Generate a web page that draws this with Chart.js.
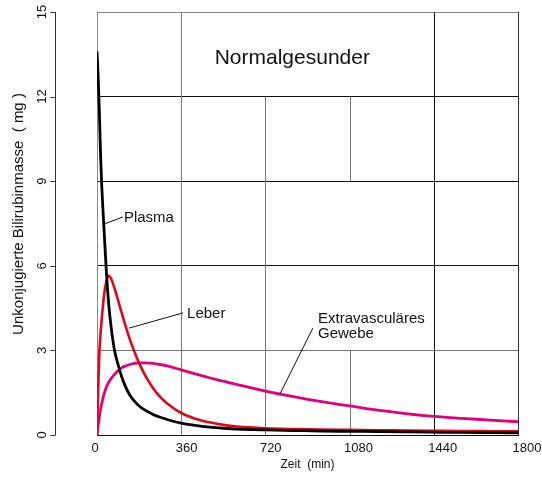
<!DOCTYPE html>
<html>
<head>
<meta charset="utf-8">
<title>Normalgesunder</title>
<script src="https://cdn.jsdelivr.net/npm/chart.js@4.4.0/dist/chart.umd.min.js"></script>
<style>
    html, body { margin: 0; padding: 0; background: #fff; }
    #wrap { width: 542px; height: 478px; }
</style>
</head>
<body>
<div id="wrap"><canvas id="bilirubinChart" width="542" height="478"></canvas></div>
<script>
// Zeitpunkte (min)
const zeit = [0, 5, 10, 15, 20, 30, 40, 50, 60, 75, 90, 105, 120, 140, 160, 180, 210, 240, 270, 300,
              360, 420, 480, 540, 600, 720, 840, 960, 1080, 1200, 1320, 1440, 1560, 1680, 1800];

// Unkonjugierte Bilirubinmasse (mg)
const plasma = [13.6, 12.7, 11.5, 10.0, 8.9, 7.3, 5.8, 4.65, 3.85, 3.0, 2.5, 2.08, 1.75, 1.42, 1.2, 1.03, 0.86, 0.73, 0.63, 0.55,
                0.42, 0.34, 0.28, 0.24, 0.21, 0.18, 0.16, 0.14, 0.13, 0.12, 0.11, 0.1, 0.09, 0.085, 0.08];
const leber = [0, 1.6, 2.9, 3.6, 4.1, 4.95, 5.45, 5.65, 5.55, 5.2, 4.78, 4.35, 3.92, 3.4, 2.95, 2.55, 2.05, 1.66, 1.35, 1.12,
               0.78, 0.58, 0.45, 0.36, 0.3, 0.24, 0.21, 0.19, 0.18, 0.17, 0.16, 0.15, 0.14, 0.135, 0.13];
const gewebe = [0, 0.35, 0.65, 0.9, 1.1, 1.45, 1.7, 1.87, 2.0, 2.15, 2.28, 2.38, 2.44, 2.5, 2.54, 2.56, 2.56, 2.54, 2.5, 2.45,
                2.31, 2.17, 2.03, 1.91, 1.79, 1.56, 1.36, 1.18, 1.03, 0.88, 0.76, 0.66, 0.59, 0.53, 0.47];

// Achsen
const xTicks = [0, 360, 720, 1080, 1440, 1800];
const yTicks = [0, 3, 6, 9, 12, 15];

const schrift = "'Liberation Sans', Arial, Helvetica, sans-serif";
Chart.defaults.font.family = schrift;

function punkte(werte) {
    return zeit.map((t, i) => ({ x: t, y: werte[i] }));
}

// senkrechte Gitterlinien (teilweise unterbrochen wie in der Vorlage)
const senkrechte = [
    { wert: 0, von: 0, bis: 15, farbe: '#888' },
    { wert: 360, von: 0, bis: 15, farbe: '#777' },
    { wert: 720, von: 0, bis: 12, farbe: '#777' },
    { wert: 1080, von: 9, bis: 12, farbe: '#777' },
    { wert: 1080, von: 0, bis: 3, farbe: '#777' },
    { wert: 1440, von: 0, bis: 15, farbe: '#111' },
    { wert: 1800, von: 0, bis: 15, farbe: '#333' }
];

// Beschriftungen im Diagramm (Datenkoordinaten)
const beschriftungen = [
    { text: 'Plasma', x: 115, y: 7.7, linie: [30, 7.48, 111, 7.73] },
    { text: 'Leber', x: 385, y: 4.29, linie: [137, 3.79, 368, 4.33] },
    { text: 'Extravasculäres', x: 945, y: 4.11, linie: [782, 1.45, 923, 3.79] },
    { text: 'Gewebe', x: 945, y: 3.58, linie: null }
];

const rahmenPlugin = {
    id: 'rahmen',
    beforeDatasetsDraw(chart) {
        const { ctx, scales: { x, y } } = chart;
        ctx.save();
        ctx.lineWidth = 1;
        senkrechte.forEach(l => {
            const px = Math.round(x.getPixelForValue(l.wert)) + 0.5;
            ctx.strokeStyle = l.farbe;
            ctx.beginPath();
            ctx.moveTo(px, y.getPixelForValue(l.von));
            ctx.lineTo(px, y.getPixelForValue(l.bis));
            ctx.stroke();
        });
        ctx.restore();
    },
    afterDraw(chart) {
        const { ctx, chartArea, scales: { x, y } } = chart;
        ctx.save();

        // linke Achse, abgesetzt vom Diagramm
        const achseX = chartArea.left - 41.5;
        ctx.strokeStyle = '#333';
        ctx.lineWidth = 1;
        ctx.beginPath();
        ctx.moveTo(achseX, y.getPixelForValue(15));
        ctx.lineTo(achseX, y.getPixelForValue(0));
        yTicks.forEach(v => {
            const py = Math.round(y.getPixelForValue(v)) + 0.5;
            ctx.moveTo(achseX - 5, py);
            ctx.lineTo(achseX, py);
        });
        ctx.stroke();

        ctx.fillStyle = '#111';
        ctx.font = '13px ' + schrift;
        ctx.textAlign = 'center';
        ctx.textBaseline = 'middle';
        yTicks.forEach(v => {
            ctx.save();
            ctx.translate(42, y.getPixelForValue(v));
            ctx.rotate(-Math.PI / 2);
            ctx.fillText(String(v), 0, 0);
            ctx.restore();
        });

        // Achsentitel links
        ctx.save();
        ctx.font = '15px ' + schrift;
        ctx.translate(19, 214);
        ctx.rotate(-Math.PI / 2);
        ctx.fillText('Unkonjugierte Bilirubinmasse  ( mg )', 0, 0);
        ctx.restore();

        // x-Beschriftung
        ctx.font = '13px ' + schrift;
        ctx.textAlign = 'left';
        xTicks.forEach(v => {
            ctx.fillText(String(v), x.getPixelForValue(v) - 5.5, chartArea.bottom + 13);
        });

        // Titel im Diagramm
        ctx.font = '21px ' + schrift;
        ctx.textAlign = 'center';
        ctx.fillText('Normalgesunder', x.getPixelForValue(835), y.getPixelForValue(13.37));

        // Kurvenbeschriftungen
        ctx.font = '15px ' + schrift;
        ctx.textAlign = 'left';
        ctx.lineWidth = 1;
        ctx.strokeStyle = '#111';
        beschriftungen.forEach(b => {
            if (b.linie) {
                ctx.beginPath();
                ctx.moveTo(x.getPixelForValue(b.linie[0]), y.getPixelForValue(b.linie[1]));
                ctx.lineTo(x.getPixelForValue(b.linie[2]), y.getPixelForValue(b.linie[3]));
                ctx.stroke();
            }
            ctx.fillText(b.text, x.getPixelForValue(b.x), y.getPixelForValue(b.y));
        });

        ctx.restore();
    }
};

document.addEventListener('DOMContentLoaded', function() {
    const ctx = document.getElementById('bilirubinChart');
    new Chart(ctx, {
        type: 'line',
        data: {
            datasets: [{
                label: 'Plasma',
                data: punkte(plasma),
                borderColor: '#000',
                borderWidth: 2.8
            }, {
                label: 'Leber',
                data: punkte(leber),
                borderColor: '#e3051f',
                borderWidth: 2.6
            }, {
                label: 'Extravasculäres Gewebe',
                data: punkte(gewebe),
                borderColor: '#e2007a',
                borderWidth: 2.8
            }]
        },
        options: {
            responsive: false,
            animation: false,
            devicePixelRatio: 1,
            layout: { padding: { top: 12, right: 24, left: 0, bottom: 0 } },
            elements: {
                point: { radius: 0 },
                line: { cubicInterpolationMode: 'monotone', fill: false }
            },
            plugins: {
                legend: { display: false },
                tooltip: { enabled: false }
            },
            scales: {
                x: {
                    type: 'linear',
                    min: 0,
                    max: 1800,
                    ticks: { display: false, stepSize: 360 },
                    grid: { display: false },
                    border: { display: true, color: '#111', width: 1 },
                    title: {
                        display: true,
                        text: 'Zeit  (min)',
                        color: '#111',
                        font: { size: 12 },
                        padding: { top: 0, bottom: 6 }
                    },
                    afterFit(s) {
                        s.height = 43;
                        s.paddingLeft = 0;
                        s.paddingRight = 0;
                    }
                },
                y: {
                    min: 0,
                    max: 15,
                    ticks: { display: false, stepSize: 3 },
                    grid: {
                        drawTicks: false,
                        lineWidth: 1,
                        color: function(c) {
                            const v = c.tick ? c.tick.value : 0;
                            if (v === 15) return '#888';
                            if (v === 3) return '#777';
                            return '#111';
                        }
                    },
                    border: { display: false },
                    afterFit(s) {
                        s.width = 97;
                        s.paddingTop = 0;
                        s.paddingBottom = 0;
                    }
                }
            }
        },
        plugins: [rahmenPlugin]
    });
});
</script>
</body>
</html>
